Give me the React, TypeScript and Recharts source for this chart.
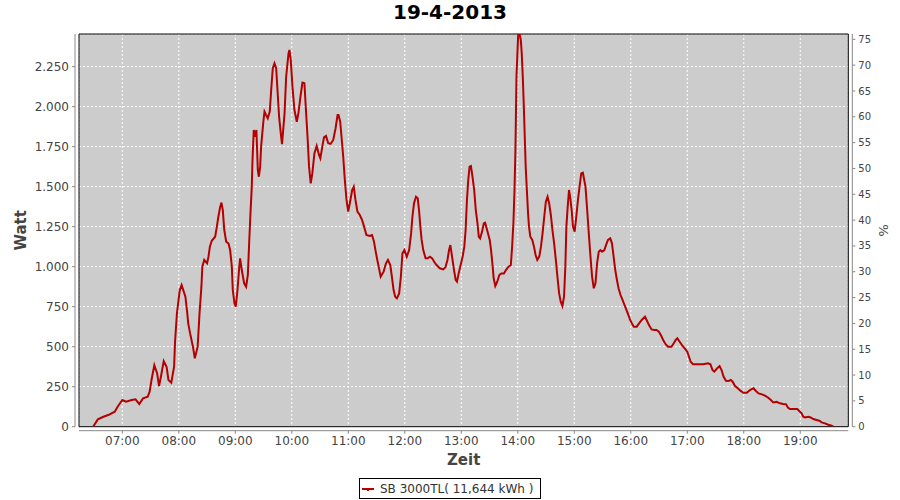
import { LineChart, Line, XAxis, YAxis, CartesianGrid, ReferenceArea } from "recharts";

// time of reading, minutes after midnight
const zeitMin = [
  389, 394, 400, 405, 412, 415, 420, 424, 430, 434, 438, 442, 447, 449, 451, 454, 457, 459, 461, 464, 467, 469, 472, 475, 476, 478, 481, 483,
  487, 489, 490, 492, 495, 497, 500, 502, 504, 505, 507, 510, 511.5, 513, 515, 518.6, 520.4, 522, 524, 525.3, 526.7, 528.3, 530.3, 532.7, 534.5, 536.3, 537.3, 539.1, 540.5, 542.3, 544.1, 545.1, 546.9, 549.4, 551.5, 553.3, 554.7, 556.1, 557.5, 558.2, 559.6, 561.0, 562.4, 563.9, 565.0, 566.4, 567.4, 569.6, 571.0, 572.7, 574.5, 576.6, 578.1, 579.8, 581.6, 583.4, 584.8, 586.5, 588.3,
  589.6, 592.3, 594.0, 596.5, 597.5, 598.9, 600.7, 602.8, 605.3, 607.0, 609.2, 611.3, 613.4, 614.8, 616.9, 618.3, 620.1, 621.8, 624.0, 626.4, 628.9, 630.3, 632.4, 634.2, 636.3, 638.7, 641.2, 644.0, 646.5, 648.6, 649.6, 651.4, 652.8, 654.6, 656.3, 658.1, 659.9, 661.6, 664.1, 665.8, 667.6, 669.7, 672.2, 674.6, 676.8, 679.2, 682.7, 685.2, 687.3, 689.1, 690.8, 692.6, 694.4,
  697.5, 700.0, 702.1, 704.6, 706.3, 708.1, 709.8, 711.6, 714.0, 715.8, 717.5, 719.6, 722.1, 724.6, 726.7, 728.1, 729.8, 731.9, 733.7, 735.1, 736.5, 737.9, 739.6, 742.1, 744.2, 746.7, 749.1, 751.2, 753.7, 757.2, 760.7, 763.2, 765.3, 767.0, 768.4, 770.2, 772.3, 774.0, 775.4, 777.2, 779.3, 781.4, 783.2, 784.6, 786.0, 787.4, 788.8, 790.2, 791.9, 793.7, 795.4, 797.2, 798.6, 800.0, 802.1, 803.9, 805.3, 807.4,
  810.2, 811.6, 813.0, 814.4, 816.1, 818.2, 820.4, 822.5, 825.3, 827.4, 830.2, 832.6, 834.0, 835.4, 836.5, 837.5, 838.6, 839.6, 840.4, 842.1, 843.2, 844.2, 845.3, 846.3, 847.4, 848.4, 849.8, 850.9, 851.9, 853.3, 855.4, 857.2, 858.9, 860.7, 862.8, 864.6, 866.3, 868.1, 869.8, 871.6, 873.3, 875.1, 876.8, 878.6, 880.4, 882.1, 883.9, 885.6, 887.4, 889.1, 890.5, 891.6, 893.0, 894.4, 895.8, 897.2, 898.6, 900.4, 902.1, 903.9, 905.6, 907.4, 909.1,
  911.9, 913.7, 915.4, 917.2, 918.9, 920.7, 922.5, 924.2, 926.0, 927.7, 929.5, 931.9, 933.7, 935.8, 938.2, 940.0, 941.8, 943.5, 945.3, 947.0, 949.1, 951.2, 954.0, 956.8, 959.3, 961.1, 963.2, 966.3, 968.8, 971.6, 975.1, 976.8, 979.3, 982.1, 984.9, 987.4, 989.8, 991.9, 994.4, 996.8, 999.6, 1003.2, 1005.6, 1007.7, 1009.5, 1011.9, 1014.4, 1017.2, 1020.0,
  1021.8, 1023.6, 1026.1, 1031.4, 1036.8, 1042.1, 1044.6, 1046.8, 1048.6, 1051.8, 1054.3, 1056.4, 1058.6, 1061.1, 1063.6, 1066.1, 1068.2, 1070.7, 1073.6, 1076.4, 1079.6, 1083.2, 1085.7, 1087.9, 1090.4, 1092.9, 1095.7, 1099.3,
  1102.5, 1106.0, 1108.8, 1111.3, 1114.9, 1118.4, 1121.9, 1124.8, 1126.9, 1129.0, 1132.6, 1136.8, 1138.9, 1141.4, 1143.2, 1145.0, 1148.5, 1151.0, 1153.8, 1157.3, 1160.2, 1162.7, 1166.2, 1169.7, 1173.3, 1175.0,
];

const watt = [
  0, 46, 62, 73, 94, 125, 167, 156, 167, 171, 142, 177, 187, 219, 292, 385, 333, 254, 312, 410, 375, 292, 275, 375, 531, 708, 854, 885,
  812, 708, 646, 583, 500, 427, 500, 708, 875, 1000, 1042, 1021, 1062, 1125, 1162, 1187, 1250, 1312, 1375, 1400, 1354, 1229, 1156, 1146, 1104, 1000, 854, 771, 750, 854, 990, 1052, 979, 896, 875, 948, 1146, 1333, 1500, 1656, 1854, 1812, 1854, 1604, 1562, 1625, 1750, 1896, 1969, 1948, 1927, 1969, 2104, 2240, 2271, 2240, 2104, 1937, 1833,
  1765, 1958, 2187, 2333, 2354, 2292, 2125, 1979, 1906, 1958, 2062, 2150, 2146, 2000, 1792, 1625, 1521, 1583, 1708, 1754, 1698, 1677, 1750, 1808, 1817, 1771, 1767, 1792, 1865, 1948, 1948, 1906, 1812, 1687, 1542, 1417, 1344, 1396, 1479, 1500, 1417, 1344, 1323, 1292, 1250, 1198, 1192, 1198, 1156, 1094, 1042, 990, 937,
  969, 1021, 1042, 1010, 937, 854, 812, 802, 833, 937, 1083, 1104, 1062, 1104, 1208, 1312, 1396, 1437, 1427, 1354, 1250, 1167, 1104, 1052, 1052, 1062, 1052, 1031, 1010, 990, 983, 996, 1042, 1104, 1135, 1062, 979, 917, 906, 958, 1010, 1062, 1125, 1229, 1417, 1542, 1625, 1629, 1562, 1479, 1354, 1271, 1187, 1177, 1219, 1271, 1275, 1229,
  1167, 1104, 1021, 927, 879, 906, 948, 958, 958, 979, 1000, 1010, 1125, 1281, 1479, 1729, 2187, 2333, 2448, 2448, 2417, 2333, 2187, 2021, 1812, 1625, 1458, 1333, 1250, 1187, 1167, 1125, 1073, 1042, 1062, 1125, 1208, 1312, 1406, 1437, 1396, 1323, 1229, 1146, 1042, 937, 833, 781, 754, 812, 1000, 1250, 1375, 1479, 1427, 1354, 1250, 1219, 1312, 1417, 1500, 1583, 1587,
  1500, 1354, 1208, 1062, 937, 865, 896, 1021, 1094, 1104, 1094, 1104, 1135, 1167, 1177, 1146, 1062, 979, 917, 865, 823, 792, 750, 708, 667, 646, 625, 625, 646, 667, 687, 667, 635, 608, 604, 604, 594, 573, 542, 517, 500, 500, 521, 542, 552, 531, 510, 490, 469,
  437, 406, 390, 390, 390, 396, 390, 354, 344, 365, 379, 354, 312, 287, 285, 292, 281, 254, 240, 225, 212, 212, 225, 233, 240, 223, 208, 202,
  194, 181, 167, 152, 156, 146, 142, 140, 119, 110, 110, 110, 98, 83, 62, 58, 62, 58, 48, 42, 37, 27, 21, 12, 6, 0,
];

const hourTicks = [420, 480, 540, 600, 660, 720, 780, 840, 900, 960, 1020, 1080, 1140];
const wattTicks = [0, 250, 500, 750, 1000, 1250, 1500, 1750, 2000, 2250];
const percentTicks = [0, 5, 10, 15, 20, 25, 30, 35, 40, 45, 50, 55, 60, 65, 70, 75];

const data = zeitMin.map((t, i) => ({ t, w: watt[i] }));

const hhmm = (m: number) => {
  const h = Math.floor(m / 60);
  const mm = Math.round(m % 60);
  return `${String(h).padStart(2, "0")}:${String(mm).padStart(2, "0")}`;
};

const dotted = (v: number) =>
  v >= 1000 ? `${Math.floor(v / 1000)}.${String(v % 1000).padStart(3, "0")}` : String(v);

const axisGray = "#888888";
const textGray = "#444444";
const font = "DejaVu Sans";

export default function App() {
  return (
    <div style={{ position: "absolute", left: 0, top: 0, width: 900, height: 500, background: "#fff", fontFamily: font }}>
      <div style={{ position: "absolute", left: 0, top: 0, width: 900, textAlign: "center", fontWeight: "bold", fontSize: 20, lineHeight: "24px", color: "#000" }}>
        19-4-2013
      </div>
      <LineChart width={900} height={500} data={data} margin={{ top: 34, right: 11.7, bottom: 28.3, left: 0 }}>
        <CartesianGrid yAxisId="w" stroke="#ffffff" strokeDasharray="2 2" fill="#cccccc" fillOpacity={1} />
        <XAxis
          dataKey="t"
          type="number"
          domain={[374, 1191]}
          allowDataOverflow
          ticks={hourTicks}
          tickFormatter={hhmm}
          height={45}
          tickSize={3}
          tickMargin={7}
          axisLine={{ stroke: axisGray, transform: "translate(0,4)" }}
          tickLine={{ stroke: axisGray, transform: "translate(0,4)" }}
          tick={{ fill: textGray, fontSize: 12, fontFamily: font }}
          label={{ value: "Zeit", position: "insideBottom", offset: 6.7, fill: textGray, fontSize: 15, fontWeight: "bold", fontFamily: font }}
        />
        <YAxis
          yAxisId="w"
          type="number"
          domain={[0, 2454]}
          allowDataOverflow
          ticks={wattTicks}
          tickFormatter={dotted}
          width={79}
          tickSize={3}
          tickMargin={7}
          axisLine={{ stroke: axisGray, transform: "translate(-4,0)" }}
          tickLine={{ stroke: axisGray, transform: "translate(-4,0)" }}
          tick={{ fill: textGray, fontSize: 12, fontFamily: font }}
          label={{ value: "Watt", angle: -90, position: "center", dx: -19, fill: textGray, fontSize: 15, fontWeight: "bold", fontFamily: font }}
        />
        <YAxis
          yAxisId="p"
          orientation="right"
          type="number"
          domain={[0, 76.03]}
          allowDataOverflow
          ticks={percentTicks}
          width={40}
          tickSize={3}
          tickMargin={7}
          axisLine={{ stroke: axisGray, transform: "translate(4,0)" }}
          tickLine={{ stroke: axisGray, transform: "translate(4,0)" }}
          tick={{ fill: textGray, fontSize: 10, fontFamily: font }}
          label={{ value: "%", angle: 90, position: "center", dx: 15, fill: textGray, fontSize: 13, fontFamily: font }}
        />
        <ReferenceArea yAxisId="w" x1={374} x2={1191} y1={0} y2={2454} fill="none" fillOpacity={0} stroke="#000" strokeWidth={1} ifOverflow="visible" />
        <Line yAxisId="w" type="linear" dataKey="w" stroke="#b40000" strokeWidth={2} dot={false} isAnimationActive={false} />
      </LineChart>
      <div
        style={{
          position: "absolute", left: 359, top: 478, width: 182, height: 21, boxSizing: "border-box",
          border: "1px solid #000", display: "flex", alignItems: "center", gap: 6, paddingLeft: 2,
          fontSize: 12, color: "#333", whiteSpace: "nowrap",
        }}
      >
        <svg width={12} height={6}>
          <line x1={0} y1={3} x2={12} y2={3} stroke="#b40000" strokeWidth={2} />
          <rect x={5} y={4} width={2} height={1} fill="#b40000" />
        </svg>
        <span>SB 3000TL( 11,644 kWh )</span>
      </div>
    </div>
  );
}
